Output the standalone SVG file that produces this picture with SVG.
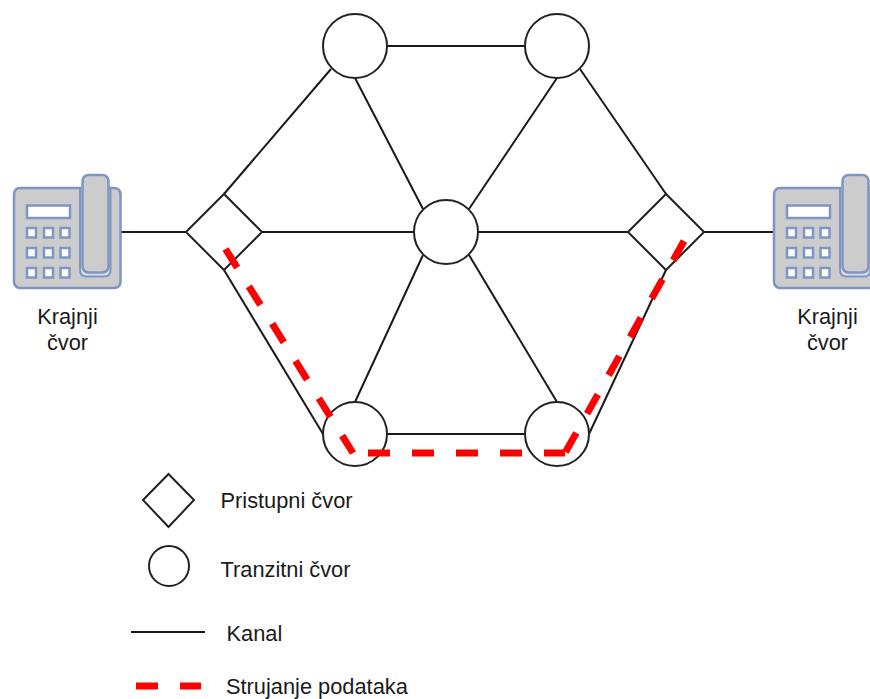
<svg xmlns="http://www.w3.org/2000/svg" width="870" height="699" viewBox="0 0 870 699">
<defs>
<style>
.n{fill:#fff;stroke:#222;stroke-width:2}
.c{fill:none;stroke:#1a1a1a;stroke-width:2}
.r{fill:none;stroke:#f00;stroke-width:7;stroke-dasharray:22 22}
.t{font-family:"Liberation Sans",Arial,sans-serif;font-size:21.8px;fill:#1a1a1a}
.m{text-anchor:middle}
.p{fill:#ccc;stroke:#7f96c4;stroke-width:2.5}
.k{fill:#fff;stroke:#7f96c4;stroke-width:2.5}
</style>
<g id="phone">
<rect class="p" x="14" y="188" width="106.500" height="100" rx="6"/>
<path d="M80 188V270Q80 276.500 86.500 276.500H104Q110.500 276.500 110.500 270V188" fill="#ddd" stroke="#7f96c4" stroke-width="2"/>
<rect class="p" x="82.500" y="175" width="26" height="97.500" rx="6"/>
<rect class="k" x="27" y="205.500" width="43" height="12.500"/>
<rect class="k" x="27" y="228" width="9" height="9.500"/><rect class="k" x="44" y="228" width="9" height="9.500"/><rect class="k" x="60.500" y="228" width="9" height="9.500"/>
<rect class="k" x="27" y="248" width="9" height="9.500"/><rect class="k" x="44" y="248" width="9" height="9.500"/><rect class="k" x="60.500" y="248" width="9" height="9.500"/>
<rect class="k" x="27" y="268" width="9" height="9.500"/><rect class="k" x="44" y="268" width="9" height="9.500"/><rect class="k" x="60.500" y="268" width="9" height="9.500"/>
</g>
</defs>
<g id="connectors">
<path class="c" d="M121 232H186M262 232H414M478 232H628M704 232H773M387 46H525M387 434H525"/>
<path class="c" d="M224 194L331 69M666 194L580 69M224 270L323 434M666 270L589 434"/>
<path class="c" d="M355 78L423 209M557 78L469 209M355 402L423 255M557 402L469 255"/>
</g>
<g id="phone-left"><use href="#phone"/><text class="t m" x="67.500" y="324">Krajnji</text><text class="t m" x="67.500" y="350">čvor</text></g>
<g id="phone-right"><use href="#phone" x="760"/><text class="t m" x="827.500" y="324">Krajnji</text><text class="t m" x="827.500" y="350">čvor</text></g>
<g id="access-left"><polygon class="n" points="186,232 224,194 262,232 224,270"/></g>
<g id="access-right"><polygon class="n" points="628,232 666,194 704,232 666,270"/></g>
<g id="transit-top-left"><circle class="n" cx="355" cy="46" r="32"/></g>
<g id="transit-top-right"><circle class="n" cx="557" cy="46" r="32"/></g>
<g id="transit-center"><circle class="n" cx="446" cy="232" r="32"/></g>
<g id="transit-bottom-left"><circle class="n" cx="355" cy="434" r="32"/></g>
<g id="transit-bottom-right"><circle class="n" cx="557" cy="434" r="32"/></g>
<g id="data-flow"><path class="r" d="M225.500 249L353 453M368 453H565M684 241L565 453"/></g>
<g id="legend">
<polygon class="n" points="143,500 168.500,474 194,500 168.500,527"/>
<circle class="n" cx="169" cy="566" r="20"/>
<path class="c" d="M131 632H205"/>
<path class="r" d="M136 686H201"/>
<text class="t" x="220.500" y="508">Pristupni čvor</text>
<text class="t" x="220.500" y="577">Tranzitni čvor</text>
<text class="t" x="226.500" y="641">Kanal</text>
<text class="t" x="226" y="694">Strujanje podataka</text>
</g>
</svg>
